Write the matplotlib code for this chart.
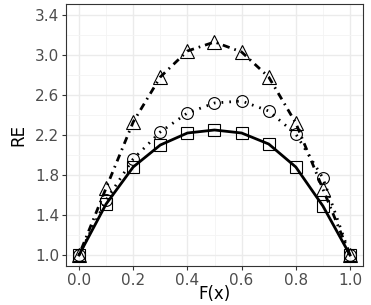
import matplotlib.pyplot as plt
import numpy as np

# F(x) grid and RE values
fx = [0.0, 0.1, 0.2, 0.3, 0.4, 0.5, 0.6, 0.7, 0.8, 0.9, 1.0]
re_square = [1.0, 1.51, 1.88, 2.10, 2.22, 2.25, 2.22, 2.11, 1.88, 1.49, 1.0]
re_circle = [1.0, 1.55, 1.96, 2.23, 2.42, 2.52, 2.54, 2.44, 2.21, 1.77, 1.0]
re_triangle = [1.0, 1.67, 2.33, 2.78, 3.04, 3.13, 3.03, 2.78, 2.32, 1.66, 1.0]

plt.rcParams['font.family'] = ['DejaVu Sans']

fig = plt.figure(figsize=(3.71, 3.05), dpi=100)
ax = fig.add_axes([66/371, 39/305, 297/371, 262/305])

lw = 2.0
ax.plot(fx, re_square, color='black', lw=lw, ls='-', zorder=3)
ax.plot(fx, re_square, ls='none', marker='s', ms=9, mfc='none', mec='black', mew=0.8, zorder=4)

ax.plot(fx, re_circle, color='black', lw=lw, ls=(0, (0.6, 2.2)), zorder=3)
ax.plot(fx, re_circle, ls='none', marker='o', ms=8.5, mfc='none', mec='black', mew=0.8, zorder=4)

ax.plot(fx, re_triangle, color='black', lw=lw, ls=(0, (0.6, 1.8, 2.6, 1.8)), zorder=3)
ax.plot(fx, re_triangle, ls='none', marker='^', ms=10, mfc='none', mec='black', mew=0.8, zorder=4)

ax.set_xlim(-0.048, 1.048)
ax.set_ylim(0.89, 3.51)
ax.set_xticks(np.arange(0, 1.01, 0.2))
ax.set_yticks(np.arange(1.0, 3.41, 0.4))
ax.set_xticks(np.arange(0.1, 1.0, 0.2), minor=True)
ax.set_yticks(np.arange(1.2, 3.5, 0.4), minor=True)
ax.xaxis.set_major_formatter(plt.FormatStrFormatter('%.1f'))
ax.yaxis.set_major_formatter(plt.FormatStrFormatter('%.1f'))

ax.grid(True, which='major', color='#EBEBEB', lw=1.0)
ax.grid(True, which='minor', color='#F4F4F4', lw=0.6)
ax.set_axisbelow(True)
ax.tick_params(which='major', length=3, width=0.8, color='#333333',
               labelsize=11, labelcolor='#4D4D4D', pad=2)
ax.tick_params(which='minor', length=0)
for s in ax.spines.values():
    s.set_color('#333333')
    s.set_linewidth(0.8)

ax.set_xlabel('F(x)', fontsize=12, labelpad=-2)
ax.set_ylabel('RE', fontsize=12, labelpad=5)

fig.savefig('out.png', dpi=100)
